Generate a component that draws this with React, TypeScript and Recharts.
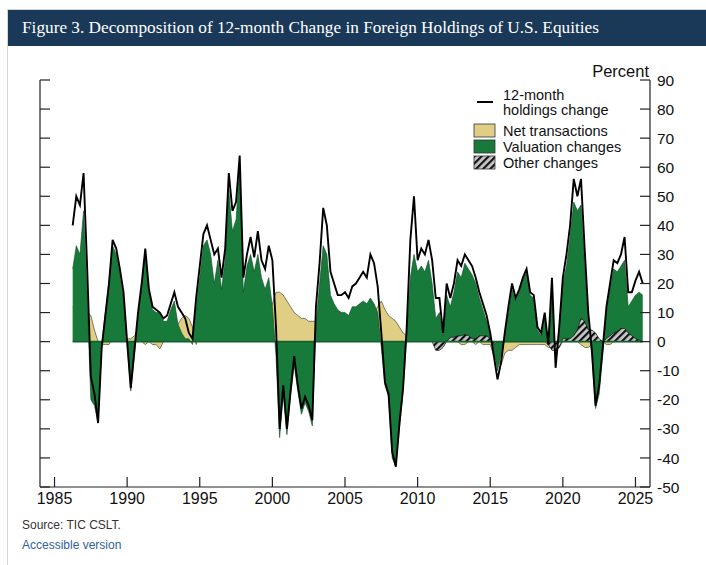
import React from 'react';
import { ComposedChart, Area, Line, XAxis, YAxis, ReferenceLine } from 'recharts';

// quarterly readings, first point 1986 Q2 (1986.25), last 2025 Q3 (2025.5)
const firstQuarter = 1986.25;
const quarterStep = 0.25;

// 12-month holdings change, percent
const holdings = [
  40, 50, 47, // 1986
  58, 25, -12, -18, // 1987
  -28, -2, 9, 20, // 1988
  35, 32, 25, 17, // 1989
  0, -16, -3, 10, // 1990
  20, 32, 18, 12, // 1991
  11, 10, 8, 9, // 1992
  13, 17, 12, 10, // 1993
  8, 3, 1, 15, // 1994
  26, 37, 40, 35, // 1995
  30, 32, 22, 32, // 1996
  58, 45, 48, 64, // 1997
  22, 30, 36, 29, // 1998
  38, 28, 25, 33, // 1999
  28, 5, -30, -15, // 2000
  -30, -17, -5, -15, // 2001
  -23, -19, -22, -27, // 2002
  12, 27, 46, 40, // 2003
  24, 20, 16, 16, // 2004
  17, 15, 19, 20, // 2005
  22, 24, 22, 30, // 2006
  27, 19, 3, -14, // 2007
  -18, -38, -43, -28, // 2008
  -16, 5, 35, 50, // 2009
  28, 32, 30, 35, // 2010
  28, 15, 15, 3, // 2011
  20, 15, 20, 28, // 2012
  26, 30, 28, 26, // 2013
  22, 17, 13, 9, // 2014
  3, -5, -13, -7, // 2015
  3, 12, 20, 15, // 2016
  18, 22, 25, 17, // 2017
  16, 5, 3, 10, // 2018
  -1, 22, -9, 5, // 2019
  22, 30, 40, 56, // 2020
  50, 56, 32, 10, // 2021
  -3, -22, -15, -2, // 2022
  12, 20, 28, 27, // 2023
  30, 36, 17, 17, // 2024
  21, 24, 20, // 2025
];

// net transactions, percent
const netTransactions = [
  12, 12, 14,
  12, 10, 9, 4,
  0, -1, -1, -1,
  1, 1, 1, 1,
  1, 1, 2, 2,
  0, -1, 0, -1,
  -1, -2.5, 0, 1,
  1, 2, 6, 8,
  9, 8, 5, -1,
  3, 4, 4, 5,
  5, 5, 5, 6,
  6, 6, 6, 6,
  6, 6, 7, 7,
  8, 8, 9, 10,
  13, 17, 17, 16,
  14, 12, 10, 9,
  8, 8, 7, 7,
  7, 6, 6, 5,
  5, 5, 5, 5,
  6, 6, 6, 6,
  7, 7, 8, 8,
  10, 12, 14, 11,
  9, 8, 7, 5,
  3, 2, 2, 2,
  2, 2, 2, 3,
  3, 6, 4, 1,
  1, 0, 0, 0,
  -1, -1, 0, 0,
  -1, 0, -1, -1,
  -1, -5, -7, -8,
  -4, -3, -3, -2,
  -1, -1, -1, -1,
  -1, -1, -1, -1,
  -2, -2, -3, -2,
  0, 0, 0, 0,
  0, -1, -2, -2,
  -1, 0, 0, 0,
  -1, -1, 0, 0,
  0, 0, 0, 0,
  0, 0, 0,
];

// valuation changes, percent
const valuation = [
  25, 33, 30,
  45, 15, -20, -22,
  -28, -1, 10, 21,
  33, 30, 23, 15,
  -1, -17, -5, 8,
  19, 31, 17, 11,
  10, 10, 7, 7,
  11, 14, 6, 3,
  1, 1, -1, 12,
  22, 33, 35, 30,
  20, 28, 18, 28,
  52, 38, 42, 60,
  17, 26, 30, 24,
  30, 22, 18, 22,
  12, -5, -33, -18,
  -32, -19, -8, -17,
  -25, -21, -24, -29,
  6, 20, 33, 30,
  16, 13, 11, 10,
  10, 9, 12, 12,
  13, 14, 13, 15,
  13, 10, -2, -15,
  -19, -40, -43, -30,
  -17, 2, 22, 30,
  24, 26, 24, 28,
  20, 8, 10, 2,
  16, 12, 17, 24,
  22, 27, 25, 23,
  20, 15, 11, 7,
  2, -3, -10, -4,
  2, 10, 18, 14,
  17, 21, 24, 16,
  15, 4, 2, 8,
  0, 18, -7, 5,
  20, 26, 36, 48,
  45, 47, 26, 6,
  -5, -23, -18, -4,
  10, 18, 25, 24,
  26, 28, 12, 14,
  16, 17, 16,
];

// other changes, percent; series starts 2011 Q1
const otherStart = 2011;
const otherChanges = [
  0, -3, -3, -2, // 2011
  0, 1.5, 1.5, 2,
  2, 2.5, 2, 1,
  1, 2, 2, 2,
  1, -1, 0, 0,
  0, 0, 0, 0,
  0, 0, 0, 0,
  0, 0, 0, 0,
  -1, -3, -3, -2,
  1, 1, 1, 2,
  4, 8, 7, 4,
  4, 3, 1, 0,
  1, 2, 3, 3.5,
  4.5, 4.5, 3, 2,
  1, 0.5, 0, // 2025
];

const yearTicks = [1985, 1990, 1995, 2000, 2005, 2010, 2015, 2020, 2025];
const percentTicks = [-50, -40, -30, -20, -10, 0, 10, 20, 30, 40, 50, 60, 70, 80, 90];

const otherOffset = (otherStart - firstQuarter) / quarterStep;
const rows = holdings.map((h, i) => ({
  t: firstQuarter + i * quarterStep,
  holdings: h,
  net: netTransactions[i],
  valuation: valuation[i],
  other: i >= otherOffset ? otherChanges[i - otherOffset] : null,
}));
const lastT = rows[rows.length - 1].t;

const SANS = '"Liberation Sans", Arial, Helvetica, sans-serif';
const TAN = '#e1ce85';
const GREEN = '#187a3a';

const LeftTick = (props: any) => {
  const { x, y } = props;
  return <line x1={x} x2={x + 10} y1={y} y2={y} stroke="#222" strokeWidth={1.2} />;
};

const RightTick = (props: any) => {
  const { x, y, payload } = props;
  return (
    <g>
      <line x1={x - 10} x2={x} y1={y} y2={y} stroke="#222" strokeWidth={1.2} />
      <text x={x + 7} y={y} dy="0.36em" fontSize={15.5} fontFamily={SANS} fill="#111">
        {payload.value}
      </text>
    </g>
  );
};

const BottomTick = (props: any) => {
  const { x, y, payload } = props;
  return (
    <g>
      <line x1={x} x2={x} y1={y - 10} y2={y} stroke="#222" strokeWidth={1.2} />
      <text x={x} y={y + 17} textAnchor="middle" fontSize={16} fontFamily={SANS} fill="#111">
        {payload.value}
      </text>
    </g>
  );
};

const LegendBox = () => (
  <svg
    width={706}
    height={565}
    style={{ position: 'absolute', left: 0, top: 0, pointerEvents: 'none' }}
  >
    <defs>
      <pattern id="hatchLegend" patternUnits="userSpaceOnUse" width="5" height="5" patternTransform="rotate(45)">
        <rect width="5" height="5" fill="#c9c9c9" />
        <rect width="2.2" height="5" fill="#111" />
      </pattern>
    </defs>
    <text x={649} y={71} dy="0.36em" textAnchor="end" fontSize={16.5} fontFamily={SANS} fill="#111">
      Percent
    </text>
    <line x1={477} x2={493} y1={102} y2={102} stroke="#000" strokeWidth={2} />
    <g fontSize={14.5} fontFamily={SANS} fill="#111">
      <text x={503} y={95} dy="0.36em">12-month</text>
      <text x={503} y={110} dy="0.36em">holdings change</text>
      <rect x={474} y={124} width={21} height={13} fill={TAN} stroke="#333" strokeWidth={0.8} />
      <text x={503} y={131} dy="0.36em">Net transactions</text>
      <rect x={474} y={140} width={21} height={13} fill={GREEN} stroke="#333" strokeWidth={0.8} />
      <text x={503} y={147} dy="0.36em">Valuation changes</text>
      <rect x={474} y={156} width={21} height={13} fill="url(#hatchLegend)" stroke="#333" strokeWidth={0.8} />
      <text x={503} y={163} dy="0.36em">Other changes</text>
    </g>
  </svg>
);

export default function App() {
  return (
    <div style={{ position: 'absolute', left: 0, top: 0, width: 706, height: 565, background: '#fff', overflow: 'hidden' }}>
      <div
        style={{
          position: 'absolute',
          left: 7,
          top: 9,
          width: 705,
          height: 560,
          borderLeft: '1px solid #d4d4d4',
          borderTop: '1px solid #d4d4d4',
        }}
      />
      <div
        style={{
          position: 'absolute',
          left: 8,
          top: 10,
          width: 698,
          height: 36,
          background: '#1a3857',
          color: '#fff',
          fontFamily: '"Liberation Serif", Georgia, serif',
          fontSize: 17.25,
          lineHeight: '36px',
          paddingLeft: 14,
          boxSizing: 'border-box',
          whiteSpace: 'nowrap',
        }}
      >
        Figure 3. Decomposition of 12-month Change in Foreign Holdings of U.S. Equities
      </div>

      <div style={{ position: 'absolute', left: 0, top: 0 }}>
        <ComposedChart width={706} height={565} data={rows} margin={{ top: 80, right: 0, bottom: 0, left: 0 }}>
          <defs>
            <pattern id="hatchOther" patternUnits="userSpaceOnUse" width="5" height="5" patternTransform="rotate(45)">
              <rect width="5" height="5" fill="#c9c9c9" />
              <rect width="2.2" height="5" fill="#111" />
            </pattern>
          </defs>
          <XAxis
            dataKey="t"
            type="number"
            domain={[1984, 2026]}
            ticks={yearTicks}
            allowDataOverflow
            height={78}
            tickSize={0}
            tickMargin={0}
            tickLine={false}
            tick={<BottomTick />}
            axisLine={{ stroke: '#222', strokeWidth: 1.2 }}
            interval={0}
          />
          <YAxis
            yAxisId="left"
            orientation="left"
            type="number"
            domain={[-50, 90]}
            ticks={percentTicks}
            allowDataOverflow
            width={40}
            tickSize={0}
            tickMargin={0}
            tickLine={false}
            tick={<LeftTick />}
            axisLine={{ stroke: '#222', strokeWidth: 1.2 }}
            interval={0}
          />
          <YAxis
            yAxisId="right"
            orientation="right"
            type="number"
            domain={[-50, 90]}
            ticks={percentTicks}
            allowDataOverflow
            width={56}
            tickSize={0}
            tickMargin={0}
            tickLine={false}
            tick={<RightTick />}
            axisLine={{ stroke: '#222', strokeWidth: 1.2 }}
            interval={0}
          />
          <Area
            yAxisId="right"
            type="linear"
            dataKey="net"
            baseValue={0}
            fill={TAN}
            fillOpacity={1}
            stroke="#4a4a3a"
            strokeWidth={0.7}
            isAnimationActive={false}
            dot={false}
            activeDot={false}
          />
          <Area
            yAxisId="right"
            type="linear"
            dataKey="valuation"
            baseValue={0}
            fill={GREEN}
            fillOpacity={1}
            stroke="#0e4a22"
            strokeWidth={0.6}
            isAnimationActive={false}
            dot={false}
            activeDot={false}
          />
          <Area
            yAxisId="right"
            type="linear"
            dataKey="other"
            baseValue={0}
            fill="url(#hatchOther)"
            fillOpacity={1}
            stroke="#111"
            strokeWidth={0.7}
            isAnimationActive={false}
            dot={false}
            activeDot={false}
          />
          <ReferenceLine
            yAxisId="right"
            segment={[{ x: firstQuarter, y: 0 }, { x: lastT, y: 0 }]}
            stroke="#145f2e"
            strokeWidth={1.6}
          />
          <Line
            yAxisId="right"
            type="linear"
            dataKey="holdings"
            stroke="#000"
            strokeWidth={1.9}
            dot={false}
            activeDot={false}
            isAnimationActive={false}
          />
        </ComposedChart>
      </div>

      <LegendBox />

      <div style={{ position: 'absolute', left: 22, top: 518, fontFamily: SANS, fontSize: 12, color: '#333', lineHeight: '14px' }}>
        Source: TIC CSLT.
      </div>
      <div style={{ position: 'absolute', left: 22, top: 538, fontFamily: SANS, fontSize: 12, color: '#2f62a0', lineHeight: '14px' }}>
        Accessible version
      </div>
    </div>
  );
}
